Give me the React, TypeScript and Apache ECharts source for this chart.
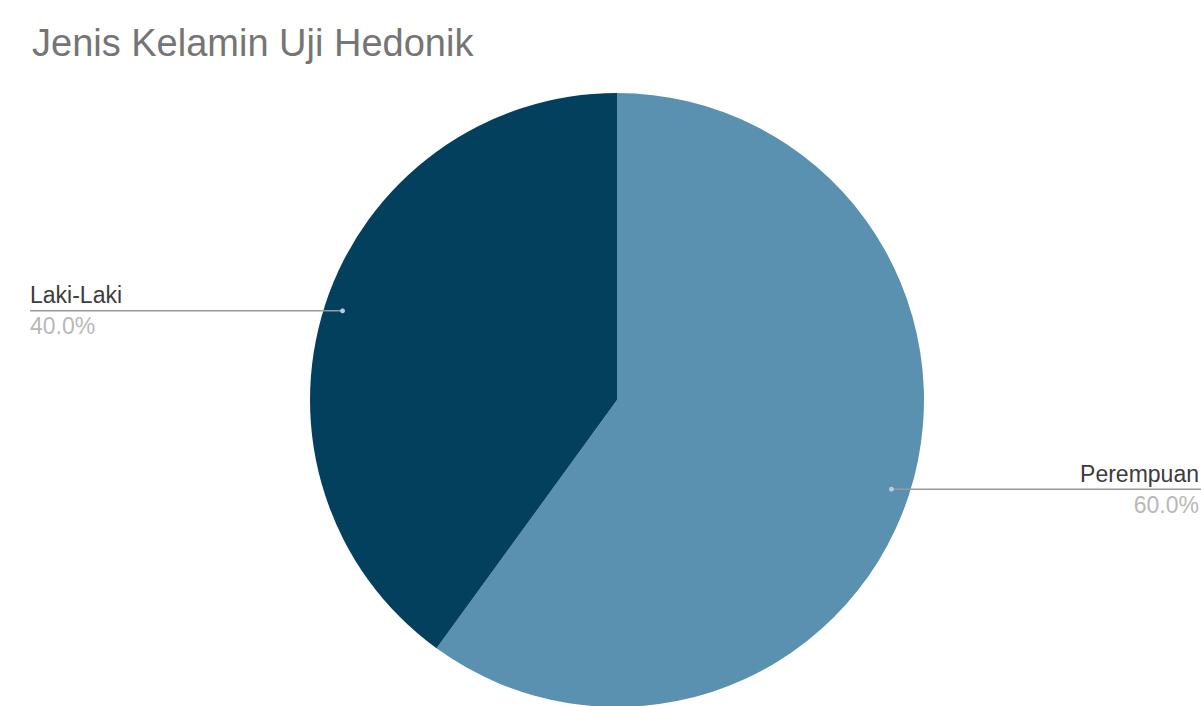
import React, { useEffect, useRef } from "react";
import * as echarts from "echarts";

const categories = ["Perempuan", "Laki-Laki"];
const values = [60, 40];
const colors = ["#5a91b0", "#02405e"];

const W = 1201;
const H = 706;
const CX = 617;
const CY = 400;
const R = 307;
const LEFT_EDGE = 30;
const RIGHT_EDGE = 1199;

// angle (radians, clockwise from 12 o'clock) at the middle of slice i
function midAngle(i: number): number {
  const total = values.reduce((a, b) => a + b, 0);
  let acc = 0;
  for (let k = 0; k < i; k++) acc += values[k];
  return ((acc + values[i] / 2) / total) * Math.PI * 2;
}

// point inside the slice where its leader line begins
function anchor(i: number): [number, number] {
  const a = midAngle(i);
  const r = R * 0.94;
  return [CX + r * Math.sin(a), CY - r * Math.cos(a)];
}

export default function App() {
  const ref = useRef<HTMLDivElement>(null);

  useEffect(() => {
    if (!ref.current) return;
    const chart = echarts.init(ref.current, undefined, { renderer: "svg" });
    const total = values.reduce((a, b) => a + b, 0);

    const leaders: any[] = [];
    values.forEach((_, i) => {
      const [x, y] = anchor(i);
      const endX = x < CX ? LEFT_EDGE : W;
      leaders.push({
        type: "line",
        shape: { x1: x, y1: y, x2: endX, y2: y },
        style: { stroke: "#9a9a9a", lineWidth: 1.5 },
        z: 100,
      });
      leaders.push({
        type: "circle",
        shape: { cx: x, cy: y, r: 2.5 },
        style: { fill: "#b9cbd6" },
        z: 101,
      });
    });

    chart.setOption({
      animation: false,
      backgroundColor: "#ffffff",
      title: {
        text: "Jenis Kelamin Uji Hedonik",
        left: 27,
        top: 19,
        textStyle: {
          fontFamily: "Liberation Sans, Arial, sans-serif",
          fontSize: 38,
          fontWeight: "normal",
          color: "#757575",
        },
      },
      graphic: leaders,
      series: [
        {
          type: "pie",
          center: [CX, CY],
          radius: [0, R],
          startAngle: 90,
          clockwise: true,
          silent: true,
          data: categories.map((name, i) => ({
            name,
            value: values[i],
            itemStyle: { color: colors[i] },
          })),
          label: {
            show: true,
            position: "outside",
            formatter: (p: any) =>
              `{n|${p.name}}\n{p|${((p.value / total) * 100).toFixed(1)}%}`,
            rich: {
              n: {
                fontFamily: "Liberation Sans, Arial, sans-serif",
                fontSize: 23,
                color: "#3c3c3c",
                lineHeight: 31,
              },
              p: {
                fontFamily: "Liberation Sans, Arial, sans-serif",
                fontSize: 23,
                color: "#b8b8b8",
                lineHeight: 31,
              },
            },
          },
          labelLine: { show: false },
          labelLayout: (params: any) => {
            const [x, y] = anchor(params.dataIndex);
            if (x < CX) {
              return { x: LEFT_EDGE, y, align: "left", verticalAlign: "middle" };
            }
            return { x: RIGHT_EDGE, y, align: "right", verticalAlign: "middle" };
          },
        },
      ],
    });

    return () => chart.dispose();
  }, []);

  return (
    <div
      ref={ref}
      style={{ position: "fixed", left: 0, top: 0, width: W, height: H }}
    />
  );
}
